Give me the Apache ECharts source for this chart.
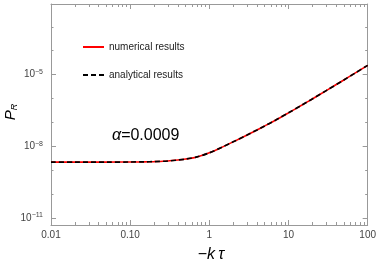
<!DOCTYPE html>
<html>
<head>
<meta charset="utf-8">
<script src="https://cdn.jsdelivr.net/npm/echarts@6/dist/echarts.min.js"></script>
<style>html,body{margin:0;padding:0;background:#fff}#c{width:379px;height:261px}</style>
</head>
<body>
<div id="c"></div>
<script>
// -k tau values
var kTau = [0.01, 0.02, 0.05, 0.1, 0.15, 0.2, 0.3, 0.4, 0.5, 0.7, 1, 1.5, 2, 3, 4, 5, 7, 10, 15, 20, 30, 50, 70, 100];
// P_R numerical results
var numerical = [2.26e-9, 2.26e-9, 2.265e-9, 2.28e-9, 2.31e-9, 2.37e-9, 2.51e-9, 2.75e-9, 3.02e-9, 3.72e-9, 5.50e-9, 1.00e-8, 1.58e-8, 3.05e-8, 4.95e-8, 7.28e-8, 1.32e-7, 2.57e-7, 5.56e-7, 9.75e-7, 2.17e-6, 6.03e-6, 1.19e-5, 2.45e-5];
// P_R analytical results
var analytical = [2.26e-9, 2.26e-9, 2.265e-9, 2.28e-9, 2.31e-9, 2.37e-9, 2.51e-9, 2.75e-9, 3.02e-9, 3.72e-9, 5.50e-9, 1.00e-8, 1.58e-8, 3.05e-8, 4.95e-8, 7.28e-8, 1.32e-7, 2.57e-7, 5.56e-7, 9.75e-7, 2.17e-6, 6.03e-6, 1.19e-5, 2.45e-5];
// tick labels
var xTickValues = [0.01, 0.1, 1, 10, 100];
var xTickLabels = ['0.01', '0.10', '1', '10', '100'];
var yLabelExps = [-11, -8, -5];
var yDecadeExps = [-11, -10, -9, -8, -7, -6, -5, -4, -3];
var seriesNames = ['numerical results', 'analytical results'];
var annotation = '0.0009';

var L = Math.log10;
var xMajor = xTickValues.map(L);
var xMinor = [];
for (var d = -2; d < 2; d++) for (var m = 2; m <= 9; m++) xMinor.push(L(m * Math.pow(10, d)));
var xMin = -2, xMax = 2, yMin = -11.27, yMax = -2.05;
var frame = '#999';
var labelColor = '#444';
var font = 'Liberation Sans, Arial, sans-serif';

function xAx(pos, ticks, len, showLabel, showLine) {
  return {
    type: 'value', position: pos, min: xMin, max: xMax,
    splitLine: {show: false},
    axisLine: {show: showLine, onZero: false, lineStyle: {color: frame, width: 1}},
    axisTick: {show: true, inside: true, length: len, customValues: ticks, lineStyle: {color: frame}},
    axisLabel: showLabel ? {
      show: true, customValues: xMajor, margin: 5, color: labelColor, fontSize: 10, fontFamily: font,
      formatter: function (v) { var i = xMajor.findIndex(function (t) { return Math.abs(t - v) < 1e-6; }); return i >= 0 ? xTickLabels[i] : ''; }
    } : {show: false}
  };
}
function yAx(pos, ticks, len, showLabel, showLine) {
  return {
    type: 'value', position: pos, min: yMin, max: yMax,
    splitLine: {show: false},
    axisLine: {show: showLine, onZero: false, lineStyle: {color: frame, width: 1}},
    axisTick: {show: true, inside: true, length: len, customValues: ticks, lineStyle: {color: frame}},
    axisLabel: showLabel ? {
      show: true, customValues: yLabelExps, margin: 8, color: labelColor, fontFamily: font,
      formatter: function (v) { return '{b|10}{s|' + String(Math.round(v)).replace('-', '\u2212') + '}'; },
      rich: {
        b: {fontSize: 10, color: labelColor, fontFamily: font},
        s: {fontSize: 7, color: labelColor, fontFamily: font, padding: [0, 0, 6, 0]}
      }
    } : {show: false}
  };
}

var chart = echarts.init(document.getElementById('c'), null, {renderer: 'canvas'});
chart.setOption({
  animation: false,
  backgroundColor: '#fff',
  grid: {left: 51, right: 9, top: 4, bottom: 36, containLabel: false},
  xAxis: [
    xAx('bottom', xMajor, 5, true, true),
    xAx('bottom', xMinor, 3, false, false),
    xAx('top', xMajor, 5, false, true),
    xAx('top', xMinor, 3, false, false)
  ],
  yAxis: [
    yAx('left', yLabelExps, 5, true, true),
    yAx('left', yDecadeExps, 2.5, false, false),
    yAx('right', yLabelExps, 5, false, true),
    yAx('right', yDecadeExps, 2.5, false, false)
  ],
  legend: {
    orient: 'vertical', left: 77, top: 37, itemWidth: 21, itemHeight: 10, itemGap: 18,
    itemStyle: {opacity: 0},
    textStyle: {fontSize: 10, color: '#222', fontFamily: font},
    data: seriesNames
  },
  series: [
    {
      name: seriesNames[0], type: 'line', xAxisIndex: 0, yAxisIndex: 0, symbol: 'none', smooth: 0.3,
      data: kTau.map(function (k, i) { return [L(k), L(numerical[i])]; }),
      lineStyle: {color: '#ff0000', width: 1.6}, itemStyle: {color: '#ff0000'}, z: 2
    },
    {
      name: seriesNames[1], type: 'line', xAxisIndex: 0, yAxisIndex: 0, symbol: 'none', smooth: 0.3,
      data: kTau.map(function (k, i) { return [L(k), L(analytical[i])]; }),
      lineStyle: {color: '#000000', width: 1.7, type: [5, 3]}, itemStyle: {color: '#000'}, z: 3
    }
  ],
  graphic: [
    {
      type: 'text', left: 112, top: 128,
      style: {
        text: '{a|\u03b1}{n|=' + annotation + '}', fontFamily: font,
        rich: {
          a: {fontSize: 16, fontStyle: 'italic', fontFamily: font, fill: '#000'},
          n: {fontSize: 16, fontFamily: font, fill: '#000'}
        }
      }
    },
    {
      type: 'text', x: 211, y: 255,
      style: {
        text: '{m|\u2212}{k|k\u2009\u03c4}', fontFamily: font, align: 'center', verticalAlign: 'middle',
        rich: {
          m: {fontSize: 16, fontFamily: font, fill: '#000'},
          k: {fontSize: 16, fontStyle: 'italic', fontFamily: font, fill: '#000'}
        }
      }
    },
    {
      type: 'text', x: 11, y: 112, rotation: Math.PI / 2,
      style: {
        text: '{p|P}{r|R}', align: 'center', verticalAlign: 'middle', fontFamily: font,
        rich: {
          p: {fontSize: 15, fontStyle: 'italic', fontFamily: font, fill: '#000'},
          r: {fontSize: 9, fontStyle: 'italic', fontFamily: font, fill: '#000', padding: [6, 0, 0, 0]}
        }
      }
    }
  ]
});
</script>
</body>
</html>
